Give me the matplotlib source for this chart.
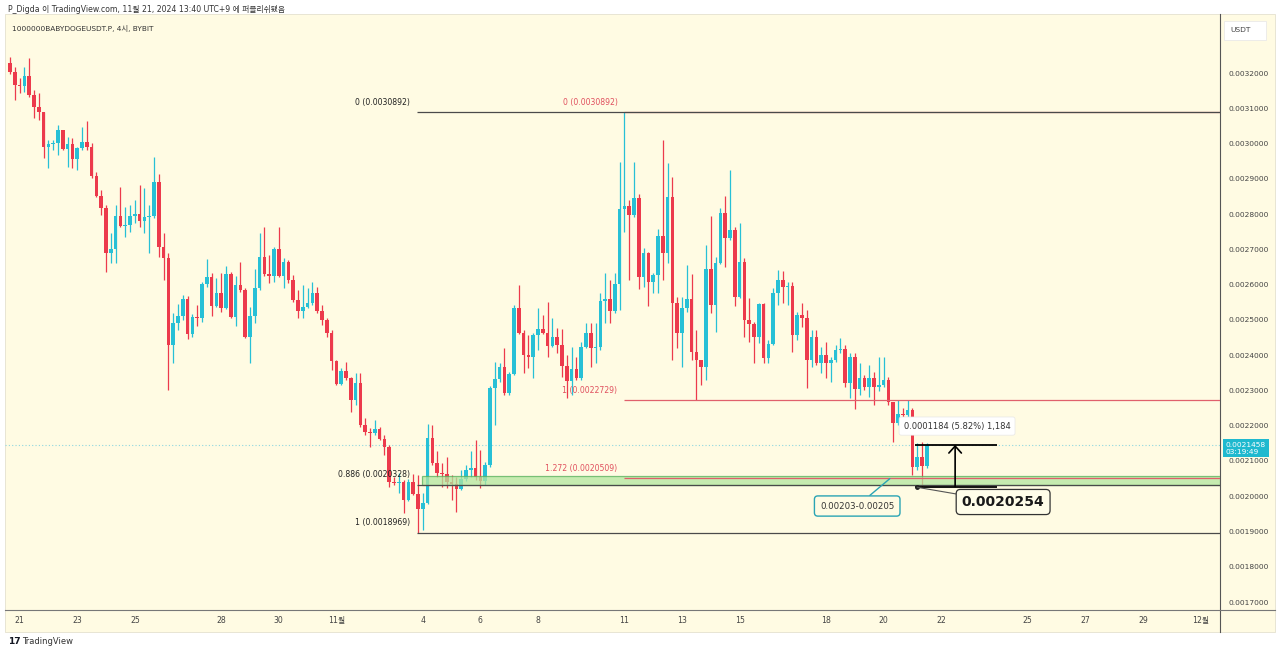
import numpy as np
import matplotlib
matplotlib.use('Agg')
import matplotlib.pyplot as plt
import matplotlib.transforms as mtransforms
from matplotlib.patches import Rectangle
from matplotlib.lines import Line2D

plt.rcParams['font.family'] = ['DejaVu Sans', 'Noto Sans CJK KR']

# 4h candles of 1000000BABYDOGEUSDT.P, prices in units of 0.0001 USDT
# open of each bar = close of the bar before
open0 = 32.284
close = [
    32.028, 31.660, 31.632, 31.915, 31.376, 31.036, 30.894, 29.902, 29.987, 30.015,
    30.384, 29.845, 29.987, 29.562, 29.873, 30.043, 29.902, 29.080, 28.513, 28.172,
    26.897, 27.010, 27.946, 27.662, 27.690, 27.946, 28.003, 27.804, 27.918, 27.946,
    28.910, 27.067, 26.755, 24.288, 24.912, 25.111, 25.593, 24.601, 25.083, 25.054,
    26.019, 26.217, 25.394, 25.763, 25.337, 26.302, 25.083, 25.990, 25.848, 24.516,
    25.111, 25.905, 26.784, 26.302, 26.245, 27.010, 26.245, 26.642, 26.132, 25.564,
    25.253, 25.366, 25.479, 25.763, 25.253, 24.997, 24.629, 23.836, 23.184, 23.552,
    23.354, 22.729, 23.212, 22.020, 21.822, 21.794, 21.907, 21.624, 21.397, 20.405,
    20.377, 20.405, 19.893, 20.405, 20.065, 19.638, 19.808, 21.652, 20.944, 20.660,
    20.632, 20.405, 20.348, 20.207, 20.490, 20.745, 20.802, 20.547, 20.433, 20.887,
    23.070, 23.325, 23.665, 22.928, 23.467, 25.338, 24.629, 24.005, 23.949, 24.572,
    24.742, 24.629, 24.260, 24.516, 24.288, 23.694, 23.269, 23.609, 23.354, 24.232,
    24.629, 24.203, 24.232, 25.536, 25.593, 25.253, 26.019, 28.144, 28.229, 27.974,
    28.456, 26.217, 26.897, 26.075, 26.273, 27.379, 26.897, 28.485, 25.479, 24.629,
    25.338, 25.593, 24.090, 23.864, 23.665, 26.443, 25.422, 26.614, 28.031, 27.322,
    27.549, 25.649, 26.642, 24.997, 24.884, 24.516, 25.451, 23.920, 24.317, 25.763,
    26.132, 25.934, 25.962, 24.572, 25.139, 25.054, 23.864, 24.516, 23.779, 24.005,
    23.779, 23.864, 24.147, 24.175, 23.212, 23.949, 23.042, 23.354, 23.099, 23.354,
    23.099, 23.155, 23.297, 22.673, 22.077, 22.332, 22.304, 22.446, 20.830, 21.114,
    20.858, 21.458,
]
high = [
    32.454, 32.171, 31.858, 32.171, 32.425, 31.518, 31.433, 30.894, 30.100, 30.100,
    30.525, 30.384, 30.186, 30.157, 29.902, 30.469, 30.639, 30.015, 29.193, 28.683,
    28.257, 27.464, 28.257, 28.769, 28.201, 28.257, 28.399, 28.825, 28.740, 28.257,
    29.619, 29.137, 27.464, 26.897, 25.196, 25.451, 25.706, 25.678, 25.168, 25.422,
    26.075, 26.727, 26.330, 26.188, 26.330, 26.529, 26.358, 26.245, 26.642, 25.905,
    25.366, 26.444, 27.464, 27.634, 26.840, 27.067, 27.634, 26.755, 26.699, 26.273,
    25.848, 25.990, 25.905, 26.075, 25.934, 25.422, 25.054, 24.714, 23.864, 23.637,
    23.807, 23.382, 23.495, 23.495, 22.219, 21.935, 22.162, 21.964, 21.737, 21.454,
    20.547, 20.660, 20.462, 20.490, 20.632, 20.603, 20.093, 22.049, 22.020, 21.284,
    20.944, 21.114, 20.603, 20.547, 20.745, 20.887, 21.284, 21.595, 21.312, 20.972,
    23.127, 23.807, 23.779, 24.203, 23.524, 25.422, 25.990, 24.714, 24.572, 24.629,
    25.338, 25.139, 25.508, 25.054, 24.770, 24.742, 24.005, 24.232, 23.949, 24.374,
    24.912, 24.912, 24.912, 25.763, 26.330, 26.132, 26.330, 29.477, 30.892, 28.399,
    29.477, 28.570, 27.038, 26.925, 26.330, 27.577, 30.100, 29.448, 29.052, 25.649,
    25.649, 26.557, 26.302, 24.714, 23.864, 27.124, 27.946, 26.784, 28.172, 28.513,
    29.250, 27.634, 27.747, 26.755, 25.621, 24.940, 25.479, 25.479, 24.430, 25.905,
    26.415, 26.387, 26.075, 26.075, 25.224, 25.479, 25.281, 24.714, 24.714, 24.232,
    24.374, 23.949, 24.288, 24.487, 24.288, 24.062, 24.062, 23.779, 23.439, 23.722,
    23.524, 23.949, 23.949, 23.382, 22.673, 22.729, 22.502, 22.729, 22.502, 21.510,
    21.539, 21.510,
]
low = [
    31.972, 31.235, 31.433, 31.461, 31.320, 30.724, 30.667, 29.590, 29.307, 29.817,
    29.675, 29.817, 29.336, 29.307, 29.250, 29.817, 29.817, 29.023, 28.485, 27.974,
    26.358, 26.614, 26.614, 27.634, 27.351, 27.492, 27.747, 27.634, 27.464, 26.897,
    27.889, 26.784, 26.132, 23.013, 23.779, 24.714, 24.997, 24.459, 24.516, 24.827,
    24.940, 25.934, 25.111, 25.366, 25.224, 25.309, 25.054, 24.827, 25.791, 24.487,
    23.779, 24.912, 25.848, 26.245, 26.047, 26.075, 26.217, 25.905, 26.047, 25.508,
    25.054, 25.054, 25.338, 25.422, 25.196, 24.855, 24.516, 23.580, 23.155, 23.155,
    23.297, 22.389, 22.587, 21.964, 21.737, 21.397, 21.737, 21.595, 21.170, 20.263,
    20.320, 20.093, 19.525, 19.865, 20.037, 18.969, 19.043, 19.780, 20.887, 20.547,
    20.263, 20.235, 19.893, 19.553, 20.178, 20.433, 20.547, 20.462, 20.235, 20.320,
    20.830, 22.020, 23.240, 22.871, 22.871, 23.439, 24.601, 23.495, 23.637, 23.354,
    24.147, 24.601, 23.949, 24.232, 24.062, 23.382, 22.786, 22.871, 23.297, 23.297,
    24.203, 23.665, 23.779, 24.147, 24.912, 24.912, 25.196, 25.281, 27.492, 26.132,
    27.918, 25.877, 25.934, 25.394, 25.763, 25.763, 26.132, 26.614, 23.864, 24.203,
    23.665, 25.224, 23.864, 22.729, 23.155, 23.297, 25.196, 24.657, 26.585, 26.500,
    27.265, 25.394, 25.621, 24.516, 24.374, 23.779, 24.345, 23.779, 23.779, 24.288,
    25.422, 25.479, 25.422, 24.090, 24.430, 24.799, 23.070, 23.665, 23.722, 23.495,
    23.354, 23.240, 23.807, 24.062, 23.099, 22.786, 22.474, 22.871, 23.013, 22.815,
    22.587, 22.985, 23.099, 22.587, 21.539, 22.020, 22.162, 22.219, 20.603, 20.745,
    20.254, 20.802,
]

# time axis: days after Oct 21 that carry a label
day_offsets = [0, 2, 4, 7, 9, 11, 14, 16, 18, 21, 23, 25, 28, 30, 32, 35, 37, 39, 41]
day_labels = ['21', '23', '25', '28', '30', '11월', '4', '6', '8', '11', '13',
              '15', '18', '20', '22', '25', '27', '29', '12월']
first_day_bar = 2      # bar that opens Oct 21
bars_per_day = 6

price_ticks = [0.0017, 0.0018, 0.0019, 0.0020, 0.0021, 0.0022, 0.0023, 0.0024,
               0.0025, 0.0026, 0.0027, 0.0028, 0.0029, 0.0030, 0.0031, 0.0032]

# fib drawings
fib_black_levels = [0.0030892, 0.0020328, 0.0018969]
fib_black_names = ['0', '0.886', '1']
fib_red_levels = [0.0030892, 0.0022729, 0.0020509]
fib_red_names = ['0', '1', '1.272']
zone_low, zone_high = 0.002032, 0.002057
last_price = 0.0021458
measure_low = 0.0020274
low_mark = 0.0020254

UP = '#27c0d6'
DOWN = '#ec3a4c'
BG = '#fffbe3'

W, H = 1280, 654
fig = plt.figure(figsize=(W / 100, H / 100), dpi=100)
fig.patch.set_facecolor('white')


def fx(px):
    return px / W


def fy(py):
    return 1 - py / H


# cream chart panel
fig.patches.append(Rectangle((fx(5), fy(632)), fx(1270), (632 - 14) / H,
                             transform=fig.transFigure, facecolor=BG,
                             edgecolor='#e4e1cf', lw=0.6, zorder=-5))

ax = fig.add_axes([fx(5), fy(610), fx(1215), (610 - 14) / H])
ax.patch.set_alpha(0)
ax.set_zorder(2)

c = np.array(close) * 1e-4
h = np.array(high) * 1e-4
l = np.array(low) * 1e-4
o = np.r_[open0 * 1e-4, c[:-1]]
idx = np.arange(len(c))
cols = np.where(c >= o, UP, DOWN)

ax.set_xlim(-1.04, 252.08)
ax.set_ylim(0.0016775, 0.0033673)
xmax = ax.get_xlim()[1]

# last price dotted line
ax.axhline(last_price, color='#8fd6e0', lw=0.8, ls=(0, (1, 2)), zorder=1)

ax.vlines(idx, l, h, colors=cols, lw=0.9, zorder=2)
ax.bar(idx, np.maximum(np.abs(c - o), 3e-6), bottom=np.minimum(o, c),
       width=0.74, color=cols, zorder=3)

# green zone
ax.add_patch(Rectangle((85.8, zone_low), xmax - 85.8, zone_high - zone_low,
                       facecolor='#b3e6a0', alpha=0.75, edgecolor='#55b05a',
                       lw=0.9, zorder=4))

# red fib (from the Nov 11 high)
for lev, name in zip(fib_red_levels, fib_red_names):
    ax.hlines(lev, 128, xmax, color='#e0606c', lw=0.9, zorder=4)
    ax.annotate(f'{name} ({lev:.7f})', (128, lev), xytext=(-5, 7),
                textcoords='offset points', ha='right', va='center',
                fontsize=5.6, color='#e0505e', zorder=5)

# black fib (from the Nov 4 low)
for lev, name in zip(fib_black_levels, fib_black_names):
    ax.hlines(lev, 84.8, xmax, color='#4a4a4a', lw=0.9, zorder=5)
    ax.annotate(f'{name} ({lev:.7f})', (84.8, lev), xytext=(-5, 7),
                textcoords='offset points', ha='right', va='center',
                fontsize=5.6, color='#222222', zorder=5)

# measure tool
ax.hlines([measure_low, last_price], 188.5, 205.6, color='black', lw=1.3, zorder=6)
ax.annotate('', xy=(196.9, last_price), xytext=(196.9, measure_low),
            arrowprops=dict(arrowstyle='->,head_length=0.5,head_width=0.45',
                            color='black', lw=1.2, shrinkA=0, shrinkB=0), zorder=6)
ax.text(197.3, 0.002199, '0.0001184 (5.82%) 1,184', ha='center', va='center',
        fontsize=6, color='#333333', zorder=7,
        bbox=dict(boxstyle='round,pad=0.55,rounding_size=0.25', fc='white',
                  ec='#e6e6e6', lw=0.5))

# low callout
ax.plot(189, low_mark, 'o', ms=2.5, color='#222222', zorder=7)
ax.annotate('0.0020254', xy=(189, low_mark), xytext=(206.9, 0.0019837),
            ha='center', va='center', fontsize=10, fontweight='bold',
            color='#1a1a1a', zorder=7,
            bbox=dict(boxstyle='round,pad=0.4,rounding_size=0.3', fc='#fffde9',
                      ec='#333333', lw=0.9),
            arrowprops=dict(arrowstyle='-', color='#555555', lw=0.8,
                            shrinkA=0, shrinkB=0))

# zone callout
ax.annotate('0.00203-0.00205', xy=(183.3, 0.002050), xytext=(176.5, 0.0019723),
            ha='center', va='center', fontsize=6.2, color='#333333', zorder=7,
            bbox=dict(boxstyle='round,pad=0.65,rounding_size=0.4', fc=BG,
                      ec='#2aa4b4', lw=1.0),
            arrowprops=dict(arrowstyle='-', color='#2aa4b4', lw=1.0,
                            shrinkA=0, shrinkB=0))

# axes
for s in ax.spines.values():
    s.set_visible(False)
ax.yaxis.tick_right()
ax.set_yticks(price_ticks)
ax.set_yticklabels([f'{p:.7f}' for p in price_ticks])
ax.tick_params(axis='y', length=0, pad=6, labelsize=5.4, labelcolor='#444444')
ax.set_xticks([first_day_bar + bars_per_day * d for d in day_offsets])
ax.set_xticklabels(day_labels)
ax.tick_params(axis='x', length=0, pad=4.5, labelsize=5.6, labelcolor='#444444')

fig.add_artist(Line2D([fx(1220), fx(1220)], [fy(14), fy(632)],
                      transform=fig.transFigure, color='#555555', lw=0.8))
fig.add_artist(Line2D([fx(5), fx(1275)], [fy(610), fy(610)],
                      transform=fig.transFigure, color='#777777', lw=0.8))

# last price label on the price axis
trans = mtransforms.blended_transform_factory(fig.transFigure, ax.transData)
ax.annotate('0.0021458\n03:19:49', xy=(fx(1226), last_price), xycoords=trans,
            xytext=(0, -2.5), textcoords='offset points', ha='left', va='center',
            fontsize=5.4, color='white', linespacing=1.1, zorder=10,
            annotation_clip=False,
            bbox=dict(boxstyle='square,pad=0.35', fc='#1fb9cf', ec='none'))

# USDT box
fig.patches.append(Rectangle((fx(1224), fy(40)), fx(42), 19 / H,
                             transform=fig.transFigure, facecolor='white',
                             edgecolor='#e6e6e6', lw=0.5, zorder=2))
fig.text(fx(1230), fy(30.5), 'USDT', fontsize=5.4, color='#444444', va='center')

# header and title
fig.text(fx(8), fy(9), 'P_Digda 이 TradingView.com, 11월 21, 2024 13:40 UTC+9 에 퍼블리쉬됐음',
         fontsize=5.6, color='#333333', va='center')
fig.text(fx(12), fy(28.5), '1000000BABYDOGEUSDT.P, 4시, BYBIT',
         fontsize=5.3, color='#333333', va='center')
fig.text(fx(8), fy(641), '17', fontsize=6.5, fontweight='bold', color='#131722', va='center')
fig.text(fx(22), fy(641), 'TradingView', fontsize=6, color='#333333', va='center')

fig.savefig('out.png', dpi=100)
